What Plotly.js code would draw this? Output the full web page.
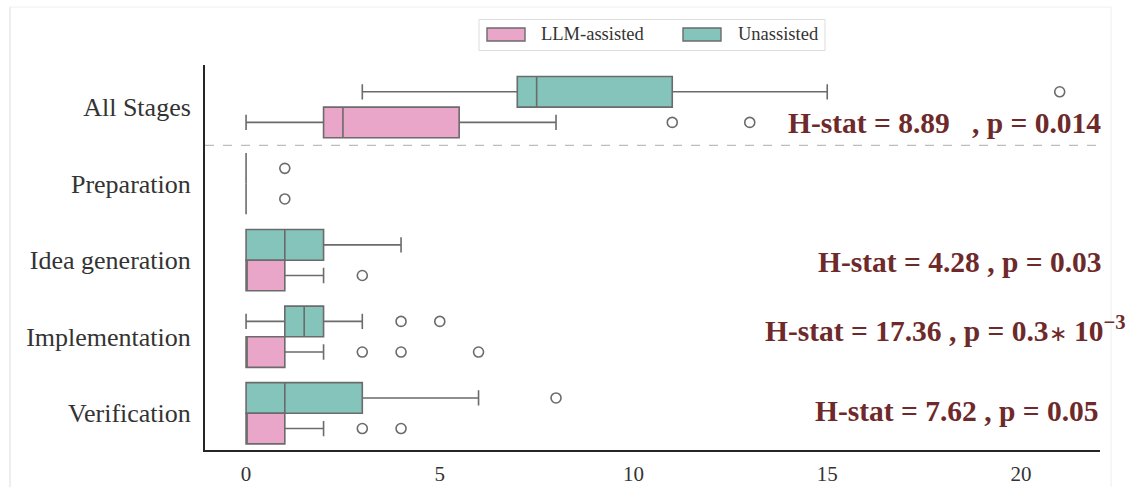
<!DOCTYPE html>
<html>
<head>
<meta charset="utf-8">
<script src="https://cdn.plot.ly/plotly-3.0.1.min.js"></script>
<style>html,body{margin:0;padding:0;background:#fff;}#chart{width:1131px;height:487px;}</style>
</head>
<body>
<div id="chart"></div>
<script>
// Categories (top to bottom)
const stages = ["All Stages", "Preparation", "Idea generation", "Implementation", "Verification"];

// Unassisted box statistics
const unQ1 = [7, 0, 0, 1, 0];
const unMedian = [7.5, 0, 1, 1.5, 1];
const unQ3 = [11, 0, 2, 2, 3];
const unLower = [3, 0, 0, 0, 0];
const unUpper = [15, 0, 4, 3, 6];
const unOutliers = [[21], [1], [], [4, 5], [8]];

// LLM-assisted box statistics
const llmQ1 = [2, 0, 0, 0, 0];
const llmMedian = [2.5, 0, 0, 0, 0];
const llmQ3 = [5.5, 0, 1, 1, 1];
const llmLower = [0, 0, 0, 0, 0];
const llmUpper = [8, 0, 2, 2, 2];
const llmOutliers = [[11, 13], [1], [3], [3, 4, 6], [3, 4]];

// Kruskal-Wallis annotations
const statLabels = [
  "H-stat = 8.89&nbsp;&nbsp; , p = 0.014",
  "H-stat = 4.28 , p = 0.03",
  "H-stat = 17.36 , p = 0.3<span style=\"font-weight:normal;font-size:22px\">\u2217</span> 10<sup>\u22123</sup>",
  "H-stat = 7.62 , p = 0.05"
];
const statY = [0.849, 0.489, 0.315, 0.102];

const xTicks = [0, 5, 10, 15, 20];

const pink = "#EAA6C8";
const teal = "#84C4BA";
const edge = "#6b6b6b";
const serif = "Liberation Serif, Times New Roman, serif";

function boxTrace(name, q1, med, q3, lo, hi, pts, color) {
  return {
    type: "box", orientation: "h", name: name,
    y: stages, x: pts,
    q1: q1, median: med, q3: q3, lowerfence: lo, upperfence: hi,
    boxpoints: "outliers", pointpos: 0, jitter: 0,
    fillcolor: color,
    line: {color: edge, width: 1.6},
    marker: {symbol: "circle-open", color: edge, size: 10, line: {width: 1.6, color: edge}},
    whiskerwidth: 0.5,
    showlegend: false, hoverinfo: "x"
  };
}

const traces = [
  boxTrace("Unassisted", unQ1, unMedian, unQ3, unLower, unUpper, unOutliers, teal),
  boxTrace("LLM-assisted", llmQ1, llmMedian, llmQ3, llmLower, llmUpper, llmOutliers, pink)
];

const px = v => (v - 205) / 895;
const py = v => (450 - v) / 385;
const statX = [px(1103), px(1104), px(1128), px(1101)];

const annotations = statLabels.map((t, i) => ({
  text: t, xref: "paper", yref: "paper", x: statX[i], y: statY[i],
  xanchor: "right", yanchor: "middle", showarrow: false,
  font: {family: serif, size: 29.5, color: "#6E2A2A", weight: "bold"}
}));
annotations.push(
  {text: "LLM-assisted", xref: "paper", yref: "paper", x: px(539), y: py(34.5), xanchor: "left", yanchor: "middle", showarrow: false, font: {family: serif, size: 18.5, color: "#333"}},
  {text: "Unassisted", xref: "paper", yref: "paper", x: px(736), y: py(34.5), xanchor: "left", yanchor: "middle", showarrow: false, font: {family: serif, size: 18.5, color: "#333"}}
);

const shapes = [
  // separator between overall and per-stage rows
  {type: "line", xref: "paper", yref: "y", x0: 0, x1: 1, y0: 0.5, y1: 0.5, line: {color: "#bdbdbd", width: 1.2, dash: "dash"}},
  // custom legend
  {type: "rect", xref: "paper", yref: "paper", x0: px(479), x1: px(825), y0: py(50.5), y1: py(19.5), line: {color: "#dddddd", width: 1}, fillcolor: "#ffffff"},
  {type: "rect", xref: "paper", yref: "paper", x0: px(487), x1: px(525), y0: py(41), y1: py(28), line: {color: edge, width: 1.4}, fillcolor: pink},
  {type: "rect", xref: "paper", yref: "paper", x0: px(683), x1: px(721), y0: py(41), y1: py(28), line: {color: edge, width: 1.4}, fillcolor: teal},
  // faint figure frame
  {type: "line", xref: "paper", yref: "paper", x0: px(10), x1: px(10), y0: py(7), y1: py(495), line: {color: "#dddddd", width: 1}},
  {type: "line", xref: "paper", yref: "paper", x0: px(10), x1: px(1111), y0: py(7), y1: py(7), line: {color: "#f0f0f0", width: 1}},
  {type: "line", xref: "paper", yref: "paper", x0: px(1111), x1: px(1111), y0: py(7), y1: py(495), line: {color: "#eeeeee", width: 1}}
];

const layout = {
  width: 1131, height: 487,
  margin: {l: 205, r: 31, t: 65, b: 37},
  paper_bgcolor: "#fff", plot_bgcolor: "#fff",
  boxmode: "group", boxgap: 0.2, boxgroupgap: 0,
  showlegend: false,
  xaxis: {
    range: [-1.06, 22.04], tickvals: xTicks, ticktext: xTicks.map(String),
    showgrid: false, zeroline: false, showline: true, linecolor: "#262626", linewidth: 2,
    ticks: "", ticklabelstandoff: 4,
    tickfont: {family: serif, size: 21, color: "#333"}
  },
  yaxis: {
    type: "category", categoryorder: "array", categoryarray: stages,
    range: [4.48, -0.55],
    showgrid: false, zeroline: false, showline: true, linecolor: "#262626", linewidth: 2,
    ticks: "", ticklabelstandoff: 7,
    tickfont: {family: serif, size: 26, color: "#333"}
  },
  shapes: shapes,
  annotations: annotations
};

Plotly.newPlot("chart", traces, layout, {displayModeBar: false, staticPlot: true});
</script>
</body>
</html>
